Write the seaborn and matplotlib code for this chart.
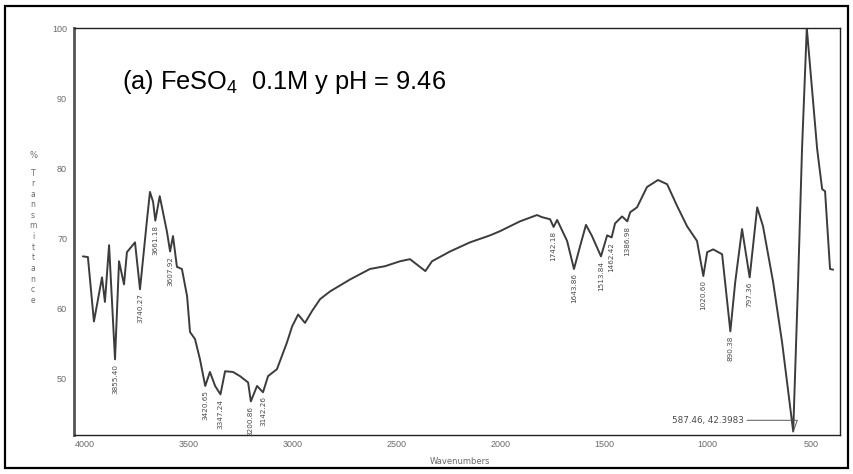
import matplotlib
matplotlib.use("Agg")
import matplotlib.pyplot as plt
from matplotlib.patches import Rectangle
from matplotlib.ticker import MultipleLocator
import seaborn as sns
import pandas as pd

# FTIR spectrum, wavenumber (cm-1) vs % transmittance
wavenumber = [
    4010, 3986, 3957, 3918, 3904, 3884, 3855.40, 3836, 3812, 3798, 3759, 3735,
    3701, 3687, 3672, 3661.18, 3640, 3605, 3590, 3576, 3557, 3533, 3508, 3494,
    3470, 3446, 3420.65, 3398, 3373, 3347.24, 3325, 3287, 3253, 3214, 3200.86,
    3171, 3142.26, 3118, 3075, 3027, 3002, 2973, 2940, 2906, 2867, 2819, 2723,
    2627, 2554, 2482, 2434, 2360, 2328, 2241, 2145, 2048, 2000, 1904, 1822,
    1798, 1759, 1742.18, 1725, 1677, 1643.86, 1614, 1586, 1557, 1513.84, 1484,
    1462.42, 1446, 1412, 1386.98, 1373, 1340, 1292, 1239, 1195, 1147, 1099,
    1051, 1020.60, 1002, 973, 930, 890.38, 867, 834, 797.36, 761, 733, 684, 641,
    587.46, 564, 545, 522, 472, 448, 434, 410, 395,
]
transmittance = [
    67.4, 67.3, 58.1, 64.4, 60.9, 69.0, 52.7, 66.7, 63.4, 68.0, 69.4, 62.7,
    72.7, 76.6, 75.2, 72.5, 76.0, 70.9, 68.1, 70.3, 65.9, 65.6, 61.7, 56.6,
    55.6, 52.7, 48.9, 50.9, 48.9, 47.7, 51.0, 50.9, 50.3, 49.4, 46.7,
    48.9, 48.0, 50.3, 51.3, 55.1, 57.4, 59.1, 57.9, 59.6, 61.3, 62.4, 64.1,
    65.6, 66.0, 66.7, 67.0, 65.3, 66.7, 68.1, 69.4, 70.4, 71.0, 72.4, 73.3,
    73.0, 72.7, 71.6, 72.6, 69.6, 65.6, 68.9, 71.9, 70.3, 67.4, 70.4,
    70.1, 72.1, 73.1, 72.4, 73.7, 74.4, 77.3, 78.3, 77.7, 74.6, 71.7,
    69.6, 64.6, 68.0, 68.4, 67.7, 56.7, 63.7, 71.3, 64.4, 74.4, 71.7, 63.7, 55.1,
    42.3983, 63.7, 82.7, 100.0, 82.7, 77.0, 76.7, 65.6, 65.5,
]

# Labelled absorption bands
band_labels = [
    "3855.40", "3740.27", "3661.18", "3607.92", "3420.65", "3347.24",
    "3200.86", "3142.26", "1742.18", "1643.86", "1513.84", "1462.42",
    "1386.98", "1020.60", "890.38", "797.36",
]
band_positions = [
    3855.40, 3735, 3661.18, 3590, 3420.65, 3347.24,
    3200.86, 3142.26, 1742.18, 1643.86, 1513.84, 1462.42,
    1386.98, 1020.60, 890.38, 797.36,
]
min_wavenumber = 587.46
min_transmittance = 42.3983

x_ticks = [4000, 3500, 3000, 2500, 2000, 1500, 1000, 500]
y_ticks = [50, 60, 70, 80, 90, 100]

sns.set_theme(style="white")
plt.rcParams["font.family"] = ["Liberation Sans", "DejaVu Sans"]
plt.rcParams["mathtext.fontset"] = "custom"
plt.rcParams["mathtext.rm"] = "Liberation Sans"
plt.rcParams["mathtext.it"] = "Liberation Sans:italic"
plt.rcParams["mathtext.bf"] = "Liberation Sans:bold"

W, H = 854, 474
fig = plt.figure(figsize=(W / 100, H / 100), dpi=100)
ax = fig.add_axes([74 / W, 1 - 435 / H, (840 - 74) / W, (435 - 28) / H])

df = pd.DataFrame({"wn": wavenumber, "T": transmittance})
sns.lineplot(data=df, x="wn", y="T", sort=False, estimator=None,
             color="#3c3c3c", linewidth=1.4, ax=ax)

ax.set_xlim(4053, 362)
ax.set_ylim(41.9, 100)
ax.set_xticks(x_ticks)
ax.set_xticklabels([str(t) for t in x_ticks])
ax.xaxis.set_minor_locator(MultipleLocator(100))
ax.set_yticks(y_ticks)
ax.set_yticklabels([str(t) for t in y_ticks])
ax.tick_params(axis="both", which="major", labelsize=6.5, labelcolor="#6a6a6a",
               color="#555555", length=3, width=0.8, pad=2)
ax.tick_params(axis="x", which="minor", length=2, width=0.6, color="#777777",
               direction="inout")
ax.tick_params(axis="x", which="major", direction="inout")
ax.set_xlabel("")
ax.set_ylabel("")

for side in ["top", "right", "bottom"]:
    ax.spines[side].set_color("#222222")
    ax.spines[side].set_linewidth(1.0)
ax.spines["left"].set_color("#555555")
ax.spines["left"].set_linewidth(2.0)

# Band annotations under each minimum
for lab, wn in zip(band_labels, band_positions):
    t = df.loc[(df["wn"] - wn).abs().idxmin(), "T"]
    ax.annotate(lab, xy=(wn, t), xytext=(0, -3), textcoords="offset points",
                rotation=90, ha="center", va="top", fontsize=5.2,
                color="#4a4a4a", family="DejaVu Sans")

ax.annotate(f"{min_wavenumber:.2f}, {min_transmittance:.4f}",
            xy=(min_wavenumber, min_transmittance), xytext=(1172, 44.0),
            textcoords="data", ha="left", va="center", fontsize=6.3,
            color="#4a4a4a", family="DejaVu Sans",
            arrowprops=dict(arrowstyle="-", color="#555555", lw=0.7,
                            shrinkA=0, shrinkB=0,
                            connectionstyle="angle,angleA=0,angleB=70,rad=0"))

# Sample description
ax.text(0.063, 0.868, r"(a) FeSO$_4$  0.1M y pH = 9.46", transform=ax.transAxes,
        fontsize=18.3, color="black", ha="left", va="center")

# Axis titles
fig.text(460 / W, 1 - 462 / H, "Wavenumbers", fontsize=6, color="#6a6a6a",
         ha="center", va="center", family="DejaVu Sans")
fig.text(33 / W, 1 - 155 / H, "%", fontsize=6, color="#6a6a6a",
         ha="center", va="center", family="DejaVu Sans")
for i, ch in enumerate("Transmittance"):
    fig.text(33 / W, 1 - (173 + i * 10.6) / H, ch, fontsize=5.5,
             color="#6a6a6a", ha="center", va="center", family="DejaVu Sans")

# Outer frame
fig.patches.append(Rectangle((5 / W, 1 - 468 / H), 843 / W, 462 / H,
                             transform=fig.transFigure, fill=False,
                             edgecolor="black", linewidth=1.6))

fig.savefig("out.png", dpi=100)
